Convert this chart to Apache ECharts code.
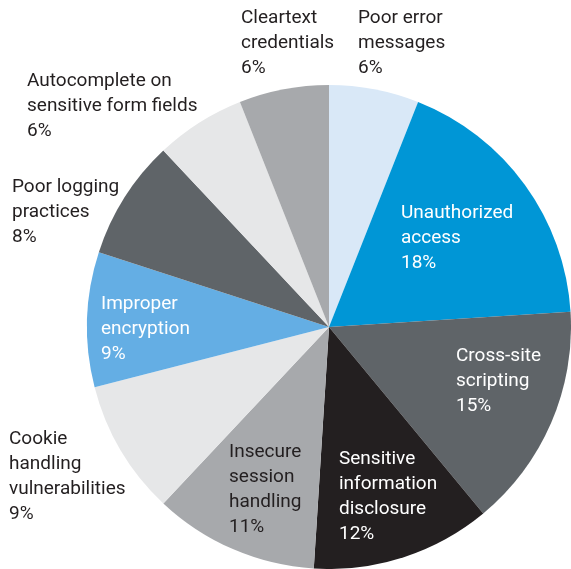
<!DOCTYPE html>
<html><head><meta charset="utf-8">
<script src="https://cdn.jsdelivr.net/npm/echarts@6/dist/echarts.min.js"></script>
<style>html,body{margin:0;padding:0;background:#fff}#c{width:571px;height:569px}</style>
</head><body><div id="c"></div>
<script>
const categories = ["Poor error\nmessages","Unauthorized\naccess","Cross-site\nscripting","Sensitive\ninformation\ndisclosure","Insecure\nsession\nhandling","Cookie\nhandling\nvulnerabilities","Improper\nencryption","Poor logging\npractices","Autocomplete on\nsensitive form fields","Cleartext\ncredentials"];
const values = [6,18,15,12,11,9,9,8,6,6];
const colors = ["#d9e8f7","#0096d6","#5f6468","#231f20","#a7a9ac","#e6e7e8","#64aee4","#5f6468","#e6e7e8","#a7a9ac"];
const textColors = ["#231f20","#ffffff","#ffffff","#ffffff","#231f20","#231f20","#ffffff","#231f20","#231f20","#231f20"];
// label anchor (left, top) positions in px
const labelPos = [[358,6],[401,201],[456,344],[339,447],[229,440],[9,427],[101,292],[12,175],[27,69],[241,6]];

const chart = echarts.init(document.getElementById('c'));
chart.setOption({
  animation:false,
  series:[{
    type:'pie',
    center:[329,327],
    radius:[0,242],
    startAngle:90,
    clockwise:true,
    avoidLabelOverlap:false,
    data: categories.map((n,i)=>({name:n,value:values[i],itemStyle:{color:colors[i]},label:{color:textColors[i]}})),
    label:{show:true,position:'inside',formatter:'{b}\n{d}%',fontFamily:'Roboto',fontSize:19,lineHeight:25,align:'left',verticalAlign:'top'},
    labelLine:{show:false},
    labelLayout:function(p){const q=labelPos[p.dataIndex];return {x:q[0],y:q[1],align:'left',verticalAlign:'top',hideOverlap:false};},
    emphasis:{disabled:true}
  }]
});
</script></body></html>
